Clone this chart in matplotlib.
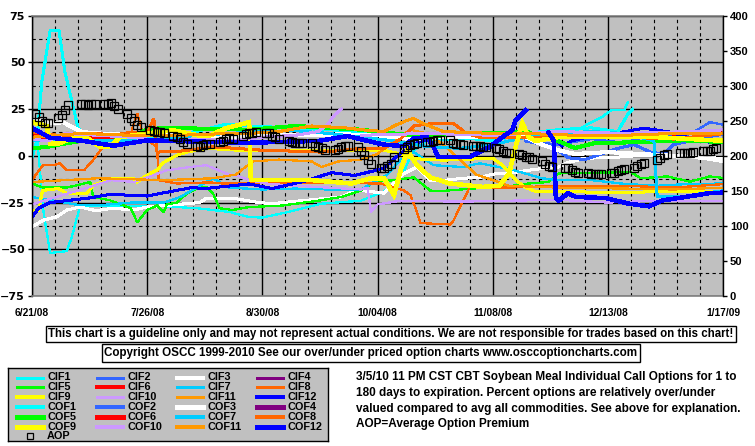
import matplotlib
matplotlib.use('Agg')
import matplotlib.pyplot as plt
from matplotlib.ticker import MultipleLocator
import numpy as np

nan = np.nan

# x axis: days counted from 6/21/08
date_ticks = [0, 35, 70, 105, 140, 175, 210]
date_labels = ['6/21/08', '7/26/08', '8/30/08', '10/04/08', '11/08/08', '12/13/08', '1/17/09']

# ---- series (left axis, percent) ----
cif1_d = [0, 1.5, 3.5, 5.5, 10.5, 12, 14.6, 20, 30, 40, 50, 55, 60, 66, 70, 78, 88, 100, 107, 112,
          116, 120, 130, 140, 150, 160, 165, 169, 173, 176, 180, 181]
cif1_v = [12, 11, -30, -52, -51, -44, -27, -26.6, -27, -27, -28, -29, -30, -32.8, -33, -30, -25.6, -24, -19, -12,
          3, 8, 9, 10, 11, 12, 13, 17, 20.5, 24.4, 24.4, 28.6]

cif2_d = [150, 160, 170, 180, 190, 198, 200, 202, 206, 208, 211]
cif2_v = [8, 6, 9, 7, 12, 10, 12, 13.7, 18, 17.4, 16.3]

cif3_d = [0, 3.3, 7.6, 10.6, 14.6, 18.6, 20.7, 24.7, 30.7, 35, 51, 53, 61, 69, 73, 82, 94, 97, 100, 107,
          110, 113, 117, 121, 126, 131, 136, 141, 146, 151, 156, 160, 163, 168, 173, 178, 183, 188, 193, 198,
          204, 211]
cif3_v = [-38, -34.5, -32.6, -29, -27.4, -29, -29, -28, -29, -27.4, -25, -22.7, -22.7, -25, -25.6, -24, -22, -19.5, -18.5, -20,
          -14.7, -9.5, -6, -13, -13, -12, -11.5, -9.5, -9, -7.7, -6.6, -6, -3.5, -1.3, -1, -0.7, 0, 0.4, -0.5, -0.7,
          -1.3, -3.4]

cif4_d = []
cif4_v = []

cif5_d = [0, 3.3, 10.6, 17.7, 18.6, 23.7, 30, 32, 35, 38, 40, 41, 44, 47, 49, 51, 53, 55, 57, 61,
          66, 76, 87, 94, 100, 104, 110, 116, 121, 123, 134, 139, 146, 151, 157, 160, 172, 182, 185, 193,
          200, 206, 211]
cif5_v = [-14.8, -17, -17, -14, -22, -23.8, -28, -35.6, -29, -26.6, -30, -26, -25, -20.3, -18.5, -16.8, -16.8, -20, -28, -29,
          -27.4, -26.6, -24, -22, -18.5, -14, -13, -11.5, -18.5, -19, -17.5, -17, -16, -14.8, -14, -9.4, -9, -8.7, -12, -11,
          -13.8, -11, -12]

cif6_d = [195, 200, 205, 211]
cif6_v = [11, 12, 13, 12]

cif7_d = [0, 10, 14.6, 20, 30, 40, 45, 50, 55, 60, 70, 80, 90, 100, 108, 112, 116, 122, 131, 136,
          145, 155, 160, 170, 180, 190, 200, 211]
cif7_v = [-22, -25, -26.5, -26.5, -25, -25, -22, -17, -12, -17, -18, -17.5, -18, -18, -10, -2, 2, -5, -6, -4,
          -7, -12, -13, -13, -15, -16, -15, -14.8]

cif8_d = [0, 3.3, 6.4, 8.5, 10.6, 15.8, 18.5, 21.6, 25.6, 29.8, 31, 32, 34, 38, 38.5, 44, 54, 58, 90, 106,
          113, 115, 117, 118, 127, 128, 133, 145, 160, 180, 195, 211]
cif8_v = [-13, -5, -5, -4, -7.7, -7.7, -2.4, 4.8, 7, 10, 17.5, 22.8, 10, 4.7, -13, -14.8, -14.2, -14.8, -14.5, -14.8,
          -18.5, -21, -30, -36, -36.7, -35, -16.8, -17, -16, -16, -17, -15]

cif9_d = [0, 2, 3.2, 8, 10.6, 16.7, 18.6, 21.6, 23.7, 30.7, 32, 34, 38, 40, 44, 47, 53, 63, 80, 97,
          107, 112, 116, 125, 140, 143, 147, 150, 153, 175, 211]
cif9_v = [-29, -29, -18.5, -17.5, -20, -20, -15.7, -14, -12, -12, -14, -11.3, -7.5, -3.5, 0.3, 2, 4, 3, 3, 3,
          3, 1, -1.5, -2.3, -1.3, -5, -13, -17, -19, -19.5, -19]

cif10_d = [0, 5.5, 15, 24, 31, 36, 41, 47, 53, 59, 63, 66, 72, 80, 90, 100, 102, 103, 105, 112,
           130, 145, 160, 175, 190, 211]
cif10_v = [-26, -23, -18, -13, -14, -11, -7.7, -6.2, -5, -9.4, -11, -13, -15, -16, -17, -18, -17, -30, -26, -24,
           -24.5, -24, -23.5, -25, -24, -24]

cif11_d = [0, 20, 40, 55, 62, 67, 75, 85, 88, 93, 100, 105, 110, 115, 120, 125, 135, 145, 160, 180, 195, 211]
cif11_v = [-14, -12, -13, -12, -10, -3, -2, -3, -6, -3, -2, 1, 8, 14, 12, 6, -10, -16, -17, -17.5, -18, -17]

cif12_d = [0, 2, 5.5, 17.6, 23.7, 35, 40, 48.5, 52.6, 66, 73, 83, 91, 98, 104, 107, 112, 117, 125, 140,
           150, 157, 161, 164, 171, 177, 186, 194, 200, 206, 211]
cif12_v = [-32.8, -28, -25, -22.5, -20.6, -21.5, -19.8, -17, -17.5, -15, -17.5, -13.5, -9, -10.5, -8, -6.5, 1.4, 7, 11, 12,
           12, 12.5, 5.3, 8, 11, 12, 14.8, 12.7, 9.4, 7.3, 8]

cof1_d = [0, 1.5, 3, 5.5, 8.2, 10, 14, 17, 25, 35, 50, 59, 66, 78, 90, 100, 110, 120, 130, 140,
          150, 160, 170, 178, 181, 182.5]
cof1_v = [-0.7, 8, 40, 67, 67, 45, 15, 10, 11, 10, 13, 17, 16, 15, 14, 13, 11, 9, 10, 8,
          12, 14, 15, 13, 22, 25]

cof2_d = [150, 158, 163, 168, 173, 178, 183, 188, 192, 195, 200, 205, 211]
cof2_v = [8, 5, -1, -2, 1, 4, 6, 2, 1, 6, 8, 10, 12]

cof3_d = [0, 6, 9.5, 12.5, 15.5, 20, 35, 41, 61, 66, 80, 95, 105, 115, 125, 135, 145, 150, 155, 160,
          165, 175, 185, 195, 205, 211]
cof3_v = [19, 17.5, 18, 15, 12.7, 12, 11, 12, 10, 11, 11, 11.5, 11, 9, 10, 10, 11, 10, 6, 3,
          1, 2, 1, 0, -1, -2]

cof4_d = []
cof4_v = []

cof5_d = [0, 4.5, 8, 15, 30, 35, 40, 66, 80, 100, 110, 120, 130, 140, 150, 157, 165, 171, 184, 198, 211]
cof5_v = [4, 4.8, 6, 8, 10, 14, 15, 14, 16, 14, 12, 10, 12, 12, 13, 10, 4.2, 6.8, 7.3, 8.3, 7.3]

cof6_d = [0, 5, 10, 20, 30]
cof6_v = [11, 10, 9, 10, 11]

cof7_d = [0, 10, 20, 35, 50, 60, 70, 80, 90, 100, 110, 120, 130, 140, 150, 160, 170, 180, 189, 190,
          197, 204, 211]
cof7_v = [8, 9, 8, 8, 11, 12, 13, 13.5, 12, 10, 8, 5, 4, 6, 10, 12, 13, 12, 8, -22,
          -22, -20, -18.5]

cof8_d = [0, 8, 14, 20, 25, 30, 35, 37, 38, 45, 55, 62, 70, 80, 88, 95, 100, 107, 112, 116,
          120, 128, 132, 136, 145, 160, 180, 195, 211]
cof8_v = [12.7, 11, 10, 12, 11, 12.7, 12, 20, 2, 2.5, 4.8, 4, 3, 2.5, 2, 3, 4, 4, 9, 16,
          17, 17.5, 12, 10, 10, 10, 10, 9, 12]

cof9_d = [0, 4.5, 5.5, 8, 10.6, 15.5, 20.7, 23.7, 26.7, 35, 43, 53, 59, 66, 66.5, 85, 97, 103, 107, 110,
          112, 114, 117, 121, 127, 137, 142, 145, 147, 149, 151, 153, 160, 175, 190, 200, 211]
cof9_v = [18, 16, 6.6, 6.6, 8.3, 11, 4.8, 4.8, 10, 12, 13.7, 10, 14.8, 18, -13, -13, -14.8, -12, -12, -21,
          -8, 3, -5, -11.5, -14.8, -16.6, -16, -9.5, 5, 17.5, 10, 8, 10, 10, 10, 9, 8]

cof10_d = [0, 5, 10, 20, 30, 40, 50, 60, 70, 80, 87, 90, 92, 94, 95, 100, 120, 140, 160, 180, 200, 211]
cof10_v = [9, 8, 12, 11, 10, 8, 9, 8, 10, 11, 13, 17, 22, 25, nan, 11, 12, 11, 13, 12, 13, 14]

cof11_d = [0, 15, 30, 45, 60, 66, 75, 85, 95, 100, 107, 110, 114, 116, 118, 125, 140, 150, 165, 180, 195, 211]
cof11_v = [10, 12, 11, 11, 12, 12, 13, 16, 15, 14, 13, 16, 19, 20, 18, 13, 12, 12, 11, 11, 12, 12]

cof12_d = [0, 5.5, 15.5, 24.7, 35, 66, 87, 96, 102, 107, 113, 116, 120, 122, 123.5, 133, 139, 144.5, 146, 147,
           150, 150.5, 157, 158.6, 159.2, 160.1, 162.9, 165.3, 174.4, 181.4, 187.5, 191.7, 197.8, 205.7, 211]
cof12_v = [14.8, 9.7, 8, 5.4, 8.3, 7, 8, 10.6, 8, 6, 5.2, 9.4, 10, 4.8, -0.7, -0.7, 4.7, 12, 13.7, 19,
           24.5, nan, 12.5, 8, -22.8, -24, -20, -22, -22.6, -25.6, -27, -23.8, -22.2, -20, -19.6]

# average option premium (right axis)
aop_days = [1, 2, 3, 4, 5, 8, 9, 10, 11, 15, 16, 17, 18, 19, 22, 23, 24, 25, 26,
            29, 30, 31, 32, 33, 36, 37, 38, 39, 40, 43, 44, 45, 46, 47, 50, 51, 52, 53, 54,
            57, 58, 59, 60, 61, 64, 65, 66, 67, 68, 71, 72, 73, 74, 75, 78, 79, 80, 81, 82,
            85, 86, 87, 88, 89, 92, 93, 94, 95, 96, 99, 100, 101, 102, 103, 106, 107, 108, 109, 110,
            113, 114, 115, 116, 117, 120, 121, 122, 123, 124, 127, 128, 129, 130, 131,
            134, 135, 136, 137, 138, 141, 142, 143, 144, 145, 148, 149, 150, 151, 152,
            155, 156, 157, 158, 162, 163, 164, 165, 166, 169, 170, 171, 172, 173,
            176, 177, 178, 179, 180, 183, 184, 185, 186, 190, 191, 192, 193,
            197, 198, 199, 200, 201, 204, 205, 206, 207, 208]
aop_vals = [260, 255, 250, 247, 247, 254, 258, 265, 273, 274, 274, 273, 274, 274, 274, 274, 276, 271, 267,
            260, 254, 250, 244, 241, 237, 236, 234, 234, 233, 229, 227, 224, 220, 217, 214, 213, 215, 217, 217,
            220, 221, 224, 225, 224, 229, 231, 232, 233, 234, 232, 232, 229, 227, 224, 221, 220, 218, 218, 218,
            218, 214, 213, 211, 208, 208, 210, 213, 214, 214, 213, 207, 201, 194, 188, 182, 182, 185, 189, 199,
            210, 213, 216, 217, 218, 220, 220, 221, 222, 222, 222, 219, 217, 217, 215,
            214, 214, 214, 213, 212, 211, 210, 207, 204, 204, 202, 201, 199, 198, 195,
            192, 189, 185, 184, 182, 182, 180, 177, 175, 175, 174, 174, 174, 174,
            175, 176, 178, 180, 181, 182, 185, 188, 190, 194, 197, 201, 203,
            204, 204, 204, 204, 205, 207, 207, 207, 210, 211]

names = ['CIF1', 'CIF2', 'CIF3', 'CIF4', 'CIF5', 'CIF6', 'CIF7', 'CIF8', 'CIF9', 'CIF10', 'CIF11', 'CIF12',
         'COF1', 'COF2', 'COF3', 'COF4', 'COF5', 'COF6', 'COF7', 'COF8', 'COF9', 'COF10', 'COF11', 'COF12']
days = [cif1_d, cif2_d, cif3_d, cif4_d, cif5_d, cif6_d, cif7_d, cif8_d, cif9_d, cif10_d, cif11_d, cif12_d,
        cof1_d, cof2_d, cof3_d, cof4_d, cof5_d, cof6_d, cof7_d, cof8_d, cof9_d, cof10_d, cof11_d, cof12_d]
vals = [cif1_v, cif2_v, cif3_v, cif4_v, cif5_v, cif6_v, cif7_v, cif8_v, cif9_v, cif10_v, cif11_v, cif12_v,
        cof1_v, cof2_v, cof3_v, cof4_v, cof5_v, cof6_v, cof7_v, cof8_v, cof9_v, cof10_v, cof11_v, cof12_v]

colors = ['#00FFFF', '#3366FF', '#FFFFFF', '#800080', '#00FF00', '#FF0000',
          '#00CCFF', '#FF6600', '#FFFF00', '#CC99FF', '#FF9900', '#0000FF']
colors = colors + colors
widths = [0.9, 0.9, 1.45, 0.9, 0.9, 1.45, 0.9, 0.9, 1.45, 0.9, 0.9, 1.45,
          1.45, 1.45, 2.2, 2.5, 2.2, 2.5, 1.45, 1.45, 2.5, 1.45, 1.45, 2.5]

W, H = 755.0, 446.0
fig = plt.figure(figsize=(7.55, 4.46), dpi=100)
fig.patch.set_facecolor('white')

ax = fig.add_axes([32 / W, 1 - 296 / H, 691 / W, 280.3 / H])
ax.set_facecolor('#C0C0C0')
for n, d, v, c, lw in zip(names, days, vals, colors, widths):
    ax.plot(d, v, color=c, lw=lw, solid_joinstyle='miter', antialiased=False)
ax.set_xlim(0, 210)
ax.set_ylim(-75, 75)

ax.set_xticks(date_ticks)
ax.set_xticklabels(date_labels, fontfamily='Liberation Sans', fontweight='bold', fontsize=7.4)
ax.xaxis.set_minor_locator(MultipleLocator(7))
ax.set_yticks(range(-75, 76, 25))
ax.yaxis.set_minor_locator(MultipleLocator(12.5))
for lab in ax.get_yticklabels():
    lab.set_fontfamily('DejaVu Sans')
    lab.set_fontweight('bold')
    lab.set_fontsize(8)
ax.tick_params(axis='x', which='both', length=0, pad=9)
ax.tick_params(axis='y', which='major', length=3, width=1, direction='out', pad=2)
ax.tick_params(axis='y', which='minor', length=0)
ax.grid(which='major', color='black', lw=1)
ax.grid(which='minor', color='black', lw=0.8, linestyle=(0, (3, 3)))
ax.set_axisbelow(True)
ax.spines['top'].set_color('#808080')
ax.spines['bottom'].set_color('#808080')
ax.spines['top'].set_linewidth(1.2)
ax.spines['bottom'].set_linewidth(1.2)
ax.spines['left'].set_linewidth(1)
ax.spines['right'].set_visible(False)

ax2 = ax.twinx()
ax2.plot(aop_days, aop_vals, linestyle='none', marker='s', ms=5.2, mfc='none', mec='black', mew=0.9)
ax2.set_ylim(0, 400)
ax2.set_yticks(range(0, 401, 50))
for lab in ax2.get_yticklabels():
    lab.set_fontfamily('Liberation Sans')
    lab.set_fontweight('bold')
    lab.set_fontsize(8)
ax2.tick_params(axis='y', length=3, width=1, direction='out', pad=2)
for s in ['top', 'bottom', 'left']:
    ax2.spines[s].set_visible(False)
ax2.spines['right'].set_linewidth(1)

# disclaimer boxes
fig.text(391 / W, 1 - 334 / H,
         'This chart is a guideline only and may not represent actual conditions. '
         'We are not responsible for trades based on this chart!',
         ha='center', va='center', fontfamily='Liberation Sans', fontweight='bold', fontsize=8.3,
         bbox=dict(boxstyle='square,pad=0.2', fc='white', ec='black', lw=1))
fig.text(371 / W, 1 - 353 / H,
         'Copyright OSCC 1999-2010 See our over/under priced option charts www.osccoptioncharts.com',
         ha='center', va='center', fontfamily='Liberation Sans', fontweight='bold', fontsize=8.35,
         bbox=dict(boxstyle='square,pad=0.25', fc='white', ec='black', lw=1))

fig.text(356 / W, 1 - 371 / H,
         '3/5/10 11 PM CST CBT Soybean Meal Individual Call Options for 1 to\n'
         '180 days to expiration. Percent options are relatively over/under\n'
         'valued compared to avg all commodities. See above for explanation.\n'
         'AOP=Average Option Premium',
         ha='left', va='top', fontfamily='Liberation Sans', fontweight='bold', fontsize=8.45,
         linespacing=1.42)

# legend box
lax = fig.add_axes([8 / W, 1 - 441 / H, 320 / W, 73 / H])
lax.set_facecolor('#C0C0C0')
lax.set_xlim(0, 320)
lax.set_ylim(73, 0)
lax.set_xticks([])
lax.set_yticks([])
for s in lax.spines.values():
    s.set_color('black')
    s.set_linewidth(1)
for i, n in enumerate(names):
    row, col = divmod(i, 4)
    x0 = 9 + 80 * col
    y = 9.5 + 9.8 * row
    lax.plot([x0, x0 + 26], [y, y], color=colors[i], lw=max(widths[i], 1.0), antialiased=False)
    lax.text(x0 + 30, y, n, va='center', ha='left', fontfamily='Liberation Sans',
             fontweight='bold', fontsize=7.8)
y = 9.5 + 9.8 * 6
lax.plot([22], [y], linestyle='none', marker='s', ms=5, mfc='none', mec='black', mew=0.9)
lax.text(39, y, 'AOP', va='center', ha='left', fontfamily='Liberation Sans',
         fontweight='bold', fontsize=7.8)

fig.savefig('out.png', dpi=100)
